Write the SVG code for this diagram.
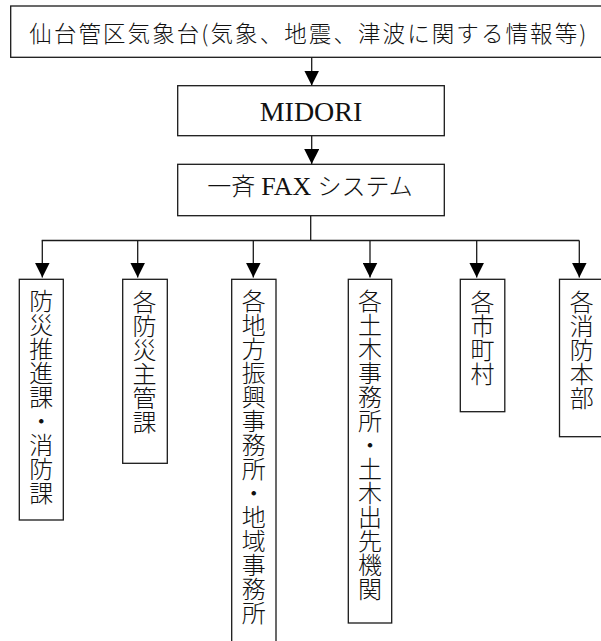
<svg xmlns="http://www.w3.org/2000/svg" width="601" height="641" viewBox="0 0 601 641">
<style>
.box{fill:#fff;stroke:#1a1a1a;stroke-width:1.3}
.con{fill:none;stroke:#1a1a1a;stroke-width:1.3}
.h{font-family:"Liberation Serif","Noto Sans CJK JP",serif;fill:#111}
.t{font-family:"Noto Sans CJK JP","Noto Sans CJK SC",sans-serif;font-weight:300;fill:#111}
.v{font-family:"Noto Sans CJK JP","Noto Sans CJK SC",sans-serif;font-weight:300;font-size:24px;fill:#111;writing-mode:vertical-rl}
</style>
<defs>
<marker id="ah" markerUnits="userSpaceOnUse" markerWidth="15" markerHeight="15" viewBox="0 0 15 15" refX="15" refY="7.5" orient="auto">
<path d="M0,0 L15,7.5 L0,15 z" fill="#000"/>
</marker>
</defs>
<g id="n-sendai">
<rect class="box" x="10.7" y="6" width="600" height="51.3"/>
<text class="t" x="29.3" y="41.5" font-size="22.5" textLength="557" lengthAdjust="spacing">仙台管区気象台(気象、地震、津波に関する情報等)</text>
</g>
<g id="n-midori">
<rect class="box" x="177.7" y="85.7" width="266.6" height="50"/>
<text class="h" x="311" y="121" font-size="28" text-anchor="middle">MIDORI</text>
</g>
<g id="n-fax">
<rect class="box" x="177.7" y="164.3" width="266.6" height="51.4"/>
<text class="h" x="310" y="195" font-size="24" text-anchor="middle"><tspan style="font-weight:300">一斉 </tspan><tspan font-size="26">FAX</tspan><tspan style="font-weight:300"> システム</tspan></text>
</g>
<g id="n-bousai">
<rect class="box" x="19.3" y="279.3" width="44" height="240.7"/>
<text class="v" x="41.3" y="289">防災推進課・消防課</text>
</g>
<g id="n-kakubousai">
<rect class="box" x="122.7" y="279.3" width="44.6" height="184"/>
<text class="v" x="144.5" y="290">各防災主管課</text>
</g>
<g id="n-chihou">
<rect class="box" x="231.7" y="279.3" width="44.3" height="380"/>
<text class="v" x="253.8" y="289">各地方振興事務所・地域事務所</text>
</g>
<g id="n-doboku">
<rect class="box" x="348.3" y="279.3" width="43.4" height="343.7"/>
<text class="v" x="370" y="289">各土木事務所・土木出先機関</text>
</g>
<g id="n-shichouson">
<rect class="box" x="460.3" y="279.3" width="44.5" height="132.4"/>
<text class="v" x="482.5" y="290">各市町村</text>
</g>
<g id="n-shoubou">
<rect class="box" x="559.5" y="279.3" width="50" height="157.4"/>
<text class="v" x="581.7" y="290">各消防本部</text>
</g>
<g id="connectors">
<line class="con" x1="311.7" y1="57.3" x2="311.7" y2="85.5" marker-end="url(#ah)"/>
<line class="con" x1="311.7" y1="135.7" x2="311.7" y2="164" marker-end="url(#ah)"/>
<line class="con" x1="310.7" y1="215.7" x2="310.7" y2="240.5"/>
<line class="con" x1="41.7" y1="240.5" x2="579.3" y2="240.5"/>
<line class="con" x1="42.3" y1="240.5" x2="42.3" y2="277.5" marker-end="url(#ah)"/>
<line class="con" x1="137.7" y1="240.5" x2="137.7" y2="277.5" marker-end="url(#ah)"/>
<line class="con" x1="253.3" y1="240.5" x2="253.3" y2="277.5" marker-end="url(#ah)"/>
<line class="con" x1="370" y1="240.5" x2="370" y2="277.5" marker-end="url(#ah)"/>
<line class="con" x1="476.7" y1="240.5" x2="476.7" y2="277.5" marker-end="url(#ah)"/>
<line class="con" x1="579.3" y1="240.5" x2="579.3" y2="277.5" marker-end="url(#ah)"/>
</g>
</svg>
